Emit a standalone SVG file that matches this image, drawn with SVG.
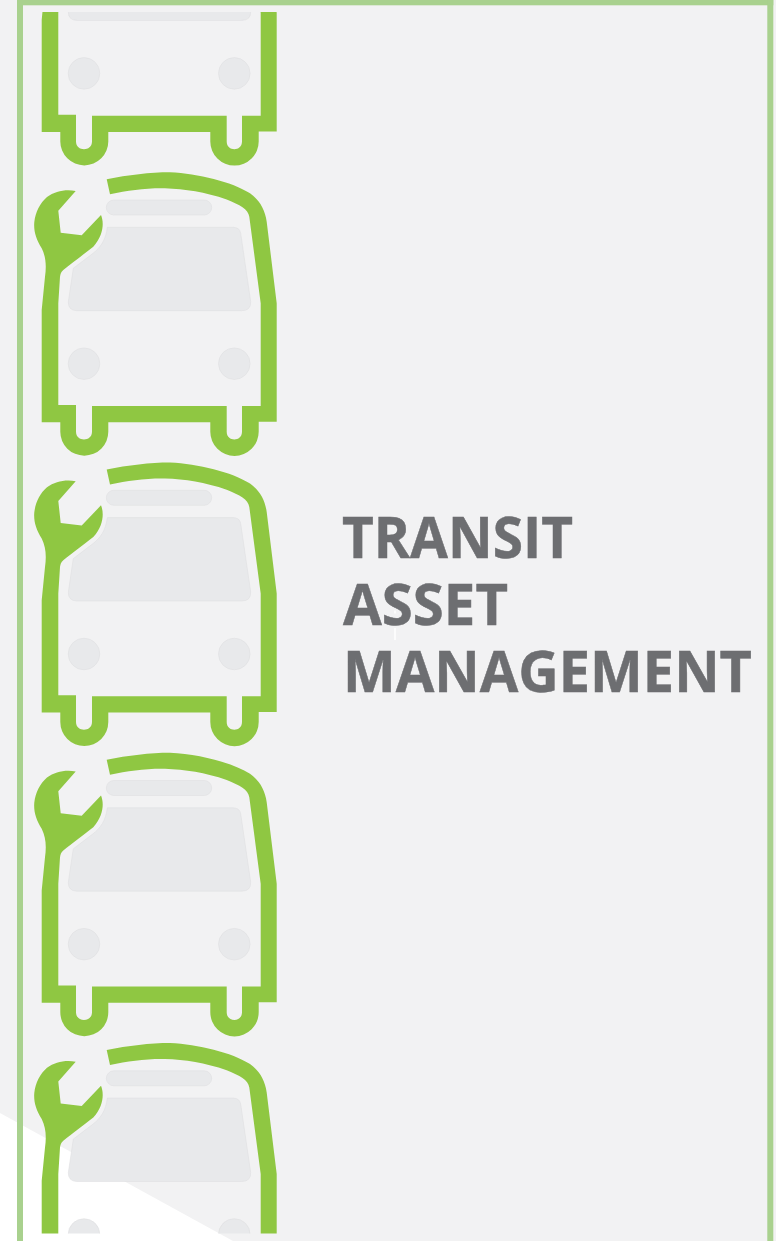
<svg xmlns="http://www.w3.org/2000/svg" width="776" height="1241" viewBox="0 0 776 1241">
<style>
.body{fill:#8fc742}
.glass{fill:#e8e9eb;stroke:#dcdddf;stroke-width:.5}
.title{font-family:"Open Sans","Liberation Sans",sans-serif;font-weight:700;font-size:58px;fill:#6d6e71;stroke:#6d6e71;stroke-width:.5}
.frame{fill:#a9d18e}
</style>
<defs>
<clipPath id="strip"><rect x="0" y="12" width="776" height="1221.500"/></clipPath>
<g id="bus">
<path class="body" d="M106.700 179.300C128 175 150 172.300 170 172.300C198 173.500 232 182 250 193.300C259 199.500 265 209 266.700 221.700L276.700 303.300V421.700H258.700V431.700A24.200 24.200 0 0 1 210.300 431.700V422.300H108.300V431.700A24 24 0 0 1 60.300 431.700V422.300H41.700V310L45 276.700C46.500 266 46 257 41.700 248.300C36 239 33.500 231 34.300 222C35.500 212 40 203 47 197C55 191.500 65 189 75.700 191L58.300 210.700L60.700 232.700L81.700 235.300L101 215C104 222 104 235 93.300 246.700C84 254 72 263 63.300 270C61 272 60.500 274 60 276.700L58.300 303.300V405H76V431.700C76 442 92 442 92 431.700V406H226.700V431.700C226.700 442 242 442 242 431.700V406H260.700V303.300L249.300 216.700C248 209 240 205 226.700 199.500C205 192 185 189 165 188.300C145 188 128 190.500 110 194.300Z"/>
<rect class="glass" x="106.300" y="200" width="105.400" height="15" rx="7.500"/>
<path class="glass" d="M107.300 227.300H233.300Q239.700 227.500 240.700 233.300L250.700 301.700Q251 310.700 241.700 310.700H76.700Q68.300 310.500 68.300 302L73.300 268.300L93 253.300C100 248 106 240 107.300 227.300Z"/>
<circle class="glass" cx="84" cy="363.700" r="15.800"/>
<circle class="glass" cx="234.300" cy="363.700" r="15.800"/>
</g>
</defs>
<rect id="background" width="776" height="1241" fill="#f2f2f3"/>
<polygon id="corner" points="0,1113 233,1241 0,1241" fill="#ffffff"/>
<g id="frame">
<rect class="frame" x="17" y="0" width="756.300" height="5.300"/>
<rect class="frame" x="17" y="0" width="6" height="1241"/>
<rect class="frame" x="767.300" y="0" width="6" height="1241"/>
</g>
<g id="buses" clip-path="url(#strip)">
<use id="bus-1" href="#bus" y="-290.300"/>
<use id="bus-2" href="#bus"/>
<use id="bus-3" href="#bus" y="290.300"/>
<use id="bus-4" href="#bus" y="580.500"/>
<use id="bus-5" href="#bus" y="870.800"/>
</g>
<g id="title">
<text class="title" x="342" y="558" textLength="231" lengthAdjust="spacingAndGlyphs">TRANSIT</text>
<text class="title" x="343" y="625" textLength="165" lengthAdjust="spacingAndGlyphs">ASSET</text>
<text class="title" x="343" y="692" textLength="409" lengthAdjust="spacingAndGlyphs">MANAGEMENT</text>
<path d="M395 610.500V613.500M395 628V640" stroke="#ffffff" stroke-width="1.500" fill="none"/>
</g>
</svg>
